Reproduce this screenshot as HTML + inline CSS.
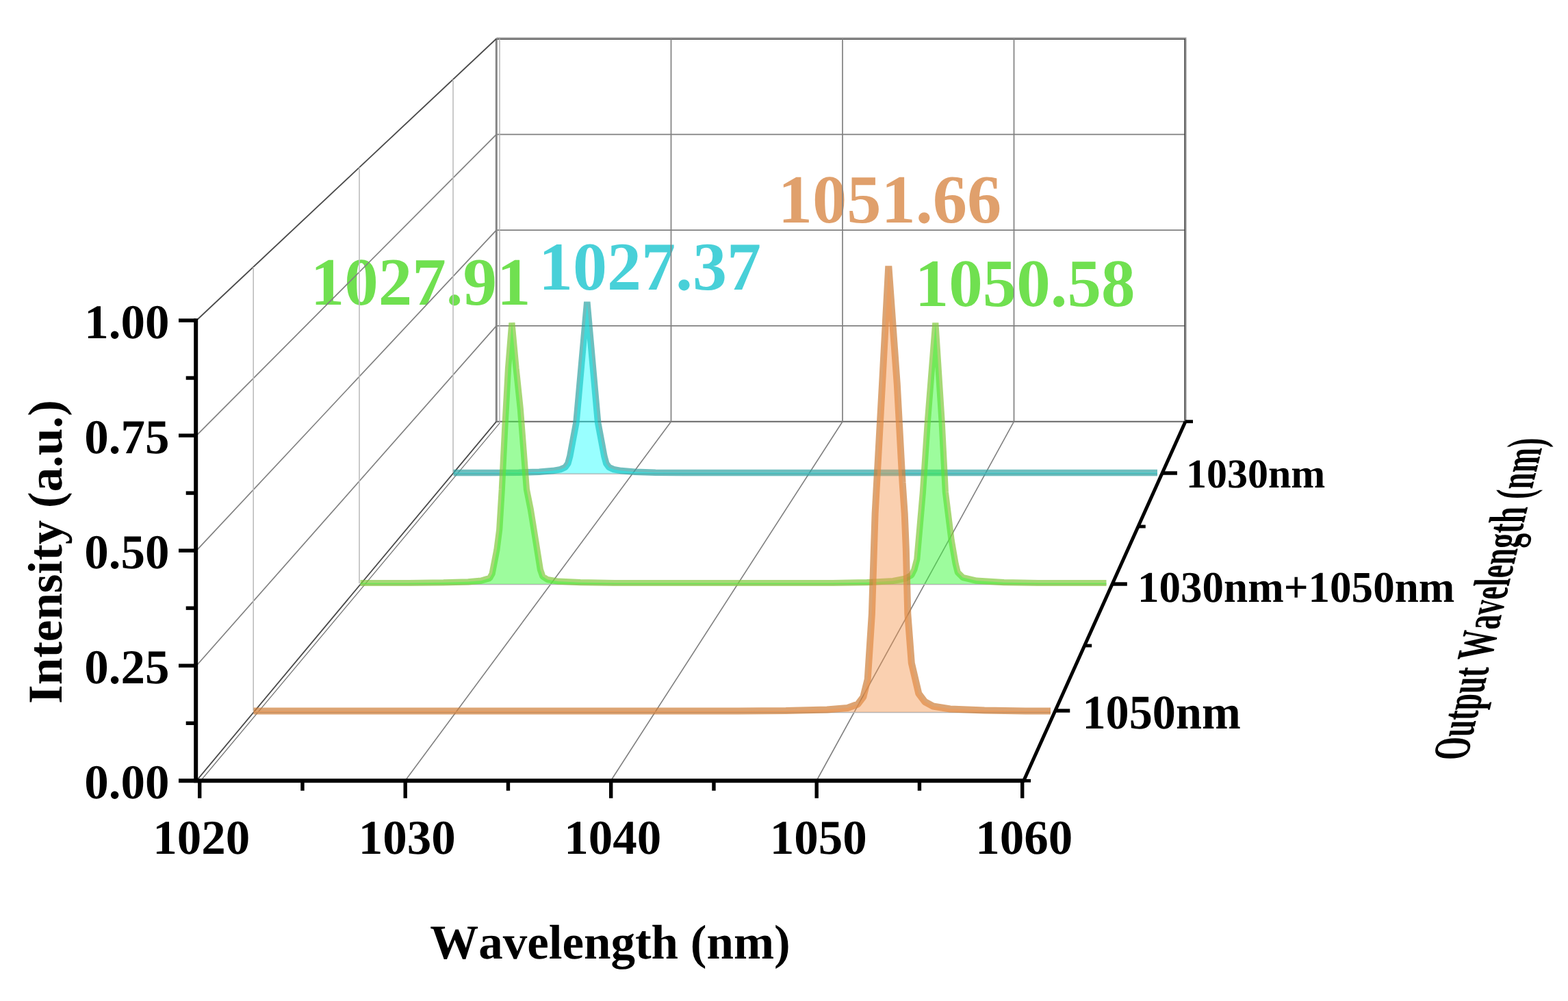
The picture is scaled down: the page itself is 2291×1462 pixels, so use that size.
<!DOCTYPE html>
<html lang="en">
<head>
<meta charset="utf-8">
<title>Output wavelength spectra</title>
<style>
html, body { margin: 0; padding: 0; background: #fff; }
body { width: 2291px; height: 1462px; overflow: hidden; font-family: "Liberation Serif", serif; }
svg { display: block; filter: blur(0.55px); }
</style>
</head>
<body>
<svg width="2291" height="1462" viewBox="0 0 2291 1462">
<rect width="2291" height="1462" fill="#ffffff"/>
<g font-family="'Liberation Serif', serif" font-weight="bold" style="font-kerning:none" text-rendering="geometricPrecision">
<text x="614.5" y="445.2" font-size="99" text-anchor="middle" fill="#70e050" >1027.91</text>
<text x="949.5" y="423.2" font-size="100" text-anchor="middle" fill="#48d0d8" >1027.37</text>
<text x="1300" y="325.3" font-size="100.5" text-anchor="middle" fill="#e0a06c" >1051.66</text>
<text x="1497.5" y="447" font-size="99" text-anchor="middle" fill="#70e050" >1050.58</text>
</g>
<g fill="none" stroke-linecap="butt">
<line x1="725.30" y1="55.50" x2="1733.50" y2="55.50" stroke="#a8a8a8" stroke-width="2.0" />
<line x1="725.30" y1="57.10" x2="1733.00" y2="57.10" stroke="#5a5a5a" stroke-width="1.6" />
<line x1="725.30" y1="196.30" x2="1732.00" y2="196.30" stroke="#808080" stroke-width="1.7" />
<line x1="725.30" y1="336.10" x2="1732.00" y2="336.10" stroke="#808080" stroke-width="1.7" />
<line x1="725.30" y1="475.90" x2="1732.00" y2="475.90" stroke="#808080" stroke-width="1.7" />
<line x1="725.30" y1="615.70" x2="1732.00" y2="615.70" stroke="#666666" stroke-width="2.0" />
<line x1="725.30" y1="56.50" x2="725.30" y2="615.70" stroke="#858585" stroke-width="3.0" />
<line x1="730.00" y1="56.50" x2="730.00" y2="617.70" stroke="#b0b0b0" stroke-width="1.4" />
<line x1="980.50" y1="56.50" x2="980.50" y2="615.70" stroke="#808080" stroke-width="1.7" />
<line x1="1231.00" y1="56.50" x2="1231.00" y2="615.70" stroke="#808080" stroke-width="1.7" />
<line x1="1481.50" y1="56.50" x2="1481.50" y2="615.70" stroke="#808080" stroke-width="1.7" />
<line x1="1731.20" y1="56.50" x2="1731.20" y2="615.70" stroke="#4a4a4a" stroke-width="1.8" />
<line x1="1732.90" y1="56.50" x2="1732.90" y2="615.70" stroke="#a8a8a8" stroke-width="1.8" />
<line x1="287.00" y1="468.00" x2="725.30" y2="56.50" stroke="#4a4a4a" stroke-width="1.8" />
<line x1="287.00" y1="636.08" x2="725.30" y2="196.30" stroke="#808080" stroke-width="1.7" />
<line x1="287.00" y1="804.15" x2="725.30" y2="336.10" stroke="#808080" stroke-width="1.7" />
<line x1="287.00" y1="972.22" x2="725.30" y2="475.90" stroke="#808080" stroke-width="1.7" />
<line x1="287.00" y1="1140.30" x2="725.30" y2="615.70" stroke="#4a4a4a" stroke-width="1.8" />
<line x1="293.50" y1="1140.00" x2="730.30" y2="617.70" stroke="#777777" stroke-width="1.3" />
<line x1="370.20" y1="389.89" x2="370.20" y2="1038.00" stroke="#bdbdbd" stroke-width="1.6" />
<line x1="525.00" y1="244.55" x2="525.00" y2="852.00" stroke="#bdbdbd" stroke-width="1.6" />
<line x1="662.00" y1="115.93" x2="662.00" y2="690.00" stroke="#bdbdbd" stroke-width="1.6" />
<line x1="592.20" y1="1140.00" x2="980.50" y2="615.70" stroke="#808080" stroke-width="1.6" />
<line x1="892.70" y1="1140.00" x2="1231.00" y2="615.70" stroke="#808080" stroke-width="1.6" />
<line x1="1193.20" y1="1140.00" x2="1481.50" y2="615.70" stroke="#808080" stroke-width="1.6" />
</g>
<line x1="662.50" y1="692.00" x2="1691.00" y2="692.00" stroke="#b4b4b4" stroke-width="1.5" /><path d="M662.5,690.6 L717.8,690.6 L757.8,690.2 L787.8,689.2 L807.8,687.6 L818.8,685.6 L825.8,682.5 L829.8,677.0 L832.8,666.0 L836.6,645.6 L842.0,617.0 L857.8,441.0 L873.6,617.0 L879.0,645.6 L882.8,666.0 L885.8,677.0 L889.8,682.5 L896.8,685.6 L907.8,687.6 L927.8,689.2 L957.8,690.2 L997.8,690.6 L1691.0,690.6" fill="none" stroke="rgba(48,162,162,0.70)" stroke-width="9.5" stroke-linejoin="bevel" stroke-linecap="butt"/><path d="M662.5,690.6 L717.8,690.6 L757.8,690.2 L787.8,689.2 L807.8,687.6 L818.8,685.6 L825.8,682.5 L829.8,677.0 L832.8,666.0 L836.6,645.6 L842.0,617.0 L857.8,441.0 L873.6,617.0 L879.0,645.6 L882.8,666.0 L885.8,677.0 L889.8,682.5 L896.8,685.6 L907.8,687.6 L927.8,689.2 L957.8,690.2 L997.8,690.6 L1691.0,690.6 L1691.0,691.6 L662.5,691.6 Z" fill="rgba(0,255,255,0.40)" stroke="none"/>
<line x1="526.50" y1="853.50" x2="1616.50" y2="853.50" stroke="#b4b4b4" stroke-width="1.5" /><path d="M526.5,851.5 L597.9,851.5 L647.9,850.8 L683.9,849.8 L702.9,848.2 L715.4,844.5 L719.1,838.0 L725.9,803.0 L729.7,773.5 L733.3,714.7 L737.7,626.5 L742.5,538.0 L747.9,471.5 L754.1,538.0 L760.3,597.0 L764.9,656.0 L769.4,714.7 L775.3,744.0 L782.4,788.0 L789.4,832.0 L792.9,842.0 L799.9,846.5 L815.9,849.2 L847.9,850.7 L897.9,851.5 L1216.8,851.5 L1266.8,850.7 L1304.8,848.5 L1322.8,845.0 L1331.8,840.0 L1335.8,832.0 L1339.8,816.8 L1348.4,719.0 L1355.5,614.0 L1366.8,471.5 L1376.0,614.0 L1381.4,719.0 L1390.1,788.8 L1396.2,823.7 L1399.3,836.0 L1406.8,843.5 L1426.8,848.2 L1466.8,850.7 L1516.8,851.5 L1616.5,851.5" fill="none" stroke="rgba(130,200,60,0.70)" stroke-width="9.2" stroke-linejoin="bevel" stroke-linecap="butt"/><path d="M526.5,851.5 L597.9,851.5 L647.9,850.8 L683.9,849.8 L702.9,848.2 L715.4,844.5 L719.1,838.0 L725.9,803.0 L729.7,773.5 L733.3,714.7 L737.7,626.5 L742.5,538.0 L747.9,471.5 L754.1,538.0 L760.3,597.0 L764.9,656.0 L769.4,714.7 L775.3,744.0 L782.4,788.0 L789.4,832.0 L792.9,842.0 L799.9,846.5 L815.9,849.2 L847.9,850.7 L897.9,851.5 L1216.8,851.5 L1266.8,850.7 L1304.8,848.5 L1322.8,845.0 L1331.8,840.0 L1335.8,832.0 L1339.8,816.8 L1348.4,719.0 L1355.5,614.0 L1366.8,471.5 L1376.0,614.0 L1381.4,719.0 L1390.1,788.8 L1396.2,823.7 L1399.3,836.0 L1406.8,843.5 L1426.8,848.2 L1466.8,850.7 L1516.8,851.5 L1616.5,851.5 L1616.5,853.0 L526.5,853.0 Z" fill="rgba(60,250,60,0.50)" stroke="none"/>
<line x1="370.50" y1="1040.50" x2="1535.00" y2="1040.50" stroke="#b4b4b4" stroke-width="1.5" /><path d="M370.5,1038.5 L1078.3,1038.5 L1148.3,1038.0 L1208.3,1036.5 L1238.3,1034.0 L1253.3,1028.5 L1261.3,1018.0 L1267.7,992.3 L1273.9,896.6 L1278.6,750.0 L1289.0,561.5 L1298.3,388.5 L1310.8,561.5 L1318.6,705.0 L1321.7,750.0 L1323.8,800.8 L1326.3,896.6 L1331.8,968.4 L1342.3,1013.0 L1351.3,1025.0 L1363.3,1031.5 L1388.3,1035.5 L1438.3,1037.5 L1498.3,1038.5 L1535.0,1038.5" fill="none" stroke="rgba(205,126,55,0.70)" stroke-width="10.0" stroke-linejoin="bevel" stroke-linecap="butt"/><path d="M370.5,1038.5 L1078.3,1038.5 L1148.3,1038.0 L1208.3,1036.5 L1238.3,1034.0 L1253.3,1028.5 L1261.3,1018.0 L1267.7,992.3 L1273.9,896.6 L1278.6,750.0 L1289.0,561.5 L1298.3,388.5 L1310.8,561.5 L1318.6,705.0 L1321.7,750.0 L1323.8,800.8 L1326.3,896.6 L1331.8,968.4 L1342.3,1013.0 L1351.3,1025.0 L1363.3,1031.5 L1388.3,1035.5 L1438.3,1037.5 L1498.3,1038.5 L1535.0,1038.5 L1535.0,1040.0 L370.5,1040.0 Z" fill="rgba(245,150,80,0.45)" stroke="none"/>
<g stroke="#000" fill="none" stroke-linecap="butt">
<line x1="286.20" y1="465.30" x2="286.20" y2="1143.30" stroke="#000" stroke-width="6.0" />
<line x1="261.00" y1="1140.30" x2="1496.70" y2="1140.30" stroke="#000" stroke-width="6.0" />
<line x1="1495.20" y1="1141.50" x2="1732.00" y2="615.70" stroke="#000" stroke-width="5.0" />
<line x1="261.00" y1="468.00" x2="286.20" y2="468.00" stroke="#000" stroke-width="5.4" />
<line x1="271.70" y1="552.04" x2="286.20" y2="552.04" stroke="#000" stroke-width="5.4" />
<line x1="261.00" y1="636.08" x2="286.20" y2="636.08" stroke="#000" stroke-width="5.4" />
<line x1="271.70" y1="720.11" x2="286.20" y2="720.11" stroke="#000" stroke-width="5.4" />
<line x1="261.00" y1="804.15" x2="286.20" y2="804.15" stroke="#000" stroke-width="5.4" />
<line x1="271.70" y1="888.19" x2="286.20" y2="888.19" stroke="#000" stroke-width="5.4" />
<line x1="261.00" y1="972.22" x2="286.20" y2="972.22" stroke="#000" stroke-width="5.4" />
<line x1="271.70" y1="1056.26" x2="286.20" y2="1056.26" stroke="#000" stroke-width="5.4" />
<line x1="291.70" y1="1140.30" x2="291.70" y2="1165.80" stroke="#000" stroke-width="5.4" />
<line x1="441.95" y1="1140.30" x2="441.95" y2="1154.80" stroke="#000" stroke-width="5.4" />
<line x1="592.20" y1="1140.30" x2="592.20" y2="1165.80" stroke="#000" stroke-width="5.4" />
<line x1="742.45" y1="1140.30" x2="742.45" y2="1154.80" stroke="#000" stroke-width="5.4" />
<line x1="892.70" y1="1140.30" x2="892.70" y2="1165.80" stroke="#000" stroke-width="5.4" />
<line x1="1042.95" y1="1140.30" x2="1042.95" y2="1154.80" stroke="#000" stroke-width="5.4" />
<line x1="1193.20" y1="1140.30" x2="1193.20" y2="1165.80" stroke="#000" stroke-width="5.4" />
<line x1="1343.45" y1="1140.30" x2="1343.45" y2="1154.80" stroke="#000" stroke-width="5.4" />
<line x1="1493.70" y1="1140.30" x2="1493.70" y2="1165.80" stroke="#000" stroke-width="5.4" />
<line x1="1697.99" y1="691.00" x2="1719.99" y2="691.00" stroke="#000" stroke-width="5.4" />
<line x1="1624.82" y1="853.00" x2="1646.82" y2="853.00" stroke="#000" stroke-width="5.4" />
<line x1="1541.27" y1="1038.00" x2="1563.27" y2="1038.00" stroke="#000" stroke-width="5.4" />
<line x1="1732.00" y1="615.70" x2="1743.00" y2="615.70" stroke="#000" stroke-width="4.800000000000001" />
<line x1="1662.76" y1="769.00" x2="1673.76" y2="769.00" stroke="#000" stroke-width="4.800000000000001" />
<line x1="1584.18" y1="943.00" x2="1595.18" y2="943.00" stroke="#000" stroke-width="4.800000000000001" />
<line x1="1495.06" y1="1140.30" x2="1506.06" y2="1140.30" stroke="#000" stroke-width="4.800000000000001" />
</g>
<g font-family="'Liberation Serif', serif" font-weight="bold" style="font-kerning:none" text-rendering="geometricPrecision">
<text x="247.5" y="494.0" font-size="71" text-anchor="end" fill="#000" >1.00</text>
<text x="247.5" y="662.075" font-size="71" text-anchor="end" fill="#000" >0.75</text>
<text x="247.5" y="830.15" font-size="71" text-anchor="end" fill="#000" >0.50</text>
<text x="247.5" y="998.2249999999999" font-size="71" text-anchor="end" fill="#000" >0.25</text>
<text x="247.5" y="1166.3" font-size="71" text-anchor="end" fill="#000" >0.00</text>
<text x="294.2" y="1247" font-size="71" text-anchor="middle" fill="#000" >1020</text>
<text x="594.7" y="1247" font-size="71" text-anchor="middle" fill="#000" >1030</text>
<text x="895.2" y="1247" font-size="71" text-anchor="middle" fill="#000" >1040</text>
<text x="1195.7" y="1247" font-size="71" text-anchor="middle" fill="#000" >1050</text>
<text x="1496.2" y="1247" font-size="71" text-anchor="middle" fill="#000" >1060</text>
<text x="891.5" y="1400" font-size="71" text-anchor="middle" fill="#000" >Wavelength (nm)</text>
<text transform="translate(89.5,806) rotate(-90)" font-size="71" text-anchor="middle">Intensity (a.u.)</text>
<text x="1733" y="712" font-size="60" text-anchor="start" fill="#000" >1030nm</text>
<text transform="translate(1662,878.6) scale(0.985,1)" font-size="64">1030nm+1050nm</text>
<text transform="translate(1581.5,1063.6) scale(0.968,1)" font-size="70.5">1050nm</text>
<text transform="matrix(0.1409 -0.5822 1.0000 0.0000 2142.9 1110)" font-size="75" text-anchor="start">Output Wavelength (nm)</text>
</g>
</svg>
</body>
</html>
